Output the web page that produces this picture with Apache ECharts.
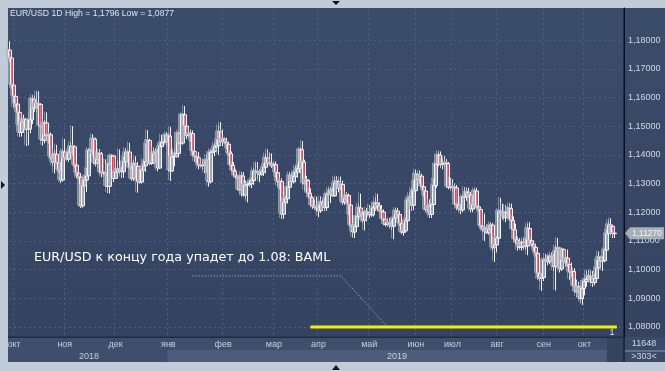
<!DOCTYPE html>
<html><head><meta charset="utf-8">
<script src="https://cdn.jsdelivr.net/npm/echarts@6/dist/echarts.min.js"></script>
<style>html,body{margin:0;padding:0;background:#c2cbd8}#c{width:665px;height:371px}</style>
</head><body><div id="c"></div>
<script>
const titleText = 'EUR/USD 1D High = 1,1796 Low = 1,0877';
const noteText = 'EUR/USD к концу года упадет до 1.08: BAML';

// daily bars in pips: [open, high, low, close]
const bars = [
// Sep 2018 (26-28)
[11765,11796,11722,11738],[11738,11750,11630,11643],[11643,11644,11565,11604],
// Oct 2018
[11604,11625,11565,11577],[11577,11590,11503,11548],[11548,11567,11463,11478],[11478,11531,11464,11514],[11514,11540,11480,11524],
[11524,11526,11431,11489],[11489,11500,11433,11490],[11490,11547,11475,11522],[11522,11608,11507,11594],[11594,11606,11550,11563],
[11563,11620,11550,11580],[11580,11622,11545,11576],[11576,11580,11490,11500],[11500,11510,11432,11451],[11451,11522,11440,11511],
[11511,11548,11460,11467],[11467,11494,11440,11470],[11470,11478,11383,11392],[11392,11430,11360,11374],[11374,11418,11335,11402],
[11402,11435,11370,11372],[11372,11380,11338,11347],[11347,11373,11302,11312],
// Nov 2018
[11312,11420,11307,11410],[11410,11455,11375,11389],[11389,11392,11380,11385],
[11385,11418,11375,11407],[11407,11444,11392,11429],[11429,11500,11398,11428],[11428,11434,11356,11364],[11364,11368,11318,11336],[11336,11338,11318,11322],
[11322,11330,11215,11222],[11222,11300,11216,11292],[11292,11326,11263,11312],[11312,11354,11270,11327],[11327,11424,11320,11415],[11415,11420,11408,11414],
[11414,11472,11400,11455],[11455,11460,11360,11370],[11370,11410,11355,11385],[11385,11420,11380,11404],[11404,11410,11322,11337],[11337,11342,11330,11338],
[11338,11385,11320,11330],[11330,11340,11267,11290],[11290,11387,11265,11368],[11368,11402,11360,11396],[11396,11400,11305,11318],
// Dec 2018
[11318,11345,11316,11340],
[11340,11380,11320,11350],[11350,11419,11334,11342],[11342,11360,11320,11341],[11341,11393,11320,11376],[11376,11423,11360,11407],[11407,11415,11400,11410],
[11410,11442,11350,11355],[11355,11394,11310,11317],[11317,11383,11310,11369],[11369,11395,11340,11360],[11360,11375,11268,11306],[11306,11312,11300,11305],
[11305,11354,11300,11347],[11347,11385,11336,11362],[11362,11440,11340,11377],[11377,11486,11370,11450],[11450,11456,11365,11370],[11370,11378,11365,11372],
[11372,11426,11368,11404],[11404,11422,11395,11410],[11410,11420,11343,11354],[11354,11440,11352,11429],[11429,11470,11420,11443],[11443,11450,11440,11445],
[11445,11480,11430,11469],
// Jan 2019
[11469,11475,11460,11465],[11465,11497,11309,11344],[11344,11412,11340,11393],[11393,11420,11360,11396],[11396,11410,11390,11405],
[11405,11485,11390,11475],[11475,11488,11425,11441],[11441,11545,11435,11540],[11540,11570,11485,11500],[11500,11530,11455,11467],[11467,11475,11462,11470],
[11470,11488,11445,11474],[11474,11485,11395,11412],[11412,11420,11375,11394],[11394,11410,11372,11390],[11390,11410,11350,11363],[11363,11370,11358,11362],
[11362,11385,11350,11363],[11363,11380,11336,11363],[11363,11400,11338,11382],[11382,11410,11289,11306],[11306,11420,11300,11408],[11408,11418,11405,11412],
[11412,11442,11396,11427],[11427,11455,11410,11432],[11432,11502,11400,11480],[11480,11514,11436,11446],
// Feb 2019
[11446,11488,11430,11455],[11455,11460,11440,11445],
[11445,11460,11420,11437],[11437,11445,11396,11404],[11404,11412,11355,11363],[11363,11375,11340,11343],[11343,11350,11317,11326],[11326,11330,11315,11318],
[11318,11328,11275,11277],[11277,11340,11255,11326],[11326,11340,11255,11260],[11260,11310,11248,11295],[11295,11300,11234,11296],[11296,11305,11290,11300],
[11300,11320,11284,11310],[11310,11353,11295,11342],[11342,11372,11330,11342],[11342,11375,11315,11338],[11338,11350,11305,11331],[11331,11345,11328,11340],
[11340,11370,11327,11357],[11357,11405,11335,11389],[11389,11419,11365,11371],[11371,11408,11365,11371],
// Mar 2019
[11371,11405,11355,11363],[11363,11370,11358,11366],
[11366,11377,11320,11338],[11338,11345,11290,11306],[11306,11320,11280,11307],[11307,11318,11177,11193],[11193,11245,11177,11235],
[11235,11258,11225,11247],[11247,11290,11230,11287],[11287,11340,11280,11327],[11327,11338,11291,11306],[11306,11345,11300,11325],
[11325,11362,11325,11339],[11339,11365,11320,11352],[11352,11425,11334,11418],[11418,11448,11365,11375],[11375,11383,11275,11299],
[11299,11326,11290,11311],[11311,11315,11260,11266],[11266,11283,11247,11250],[11250,11255,11212,11222],[11222,11245,11212,11217],
// Apr 2019
[11217,11255,11203,11215],[11215,11230,11183,11205],[11205,11255,11198,11235],[11235,11245,11208,11222],[11222,11250,11205,11216],
[11216,11270,11205,11262],[11262,11285,11245,11263],[11263,11288,11232,11275],[11275,11285,11255,11257],[11257,11323,11255,11302],
[11302,11325,11290,11307],[11307,11315,11270,11283],[11283,11324,11278,11297],[11297,11310,11226,11235],[11235,11255,11226,11247],
[11247,11270,11241,11258],[11258,11265,11190,11225],[11225,11235,11148,11154],[11154,11170,11112,11131],[11131,11160,11110,11150],
[11150,11185,11140,11185],[11185,11230,11175,11215],
// May 2019
[11215,11265,11185,11194],[11194,11200,11162,11172],[11172,11205,11136,11201],
[11201,11215,11168,11199],[11199,11225,11180,11191],[11191,11210,11184,11191],[11191,11230,11185,11215],[11215,11252,11205,11232],
[11232,11264,11215,11223],[11223,11235,11200,11205],[11205,11225,11178,11201],[11201,11210,11170,11174],[11174,11180,11150,11157],
[11157,11175,11150,11163],[11163,11180,11145,11160],[11160,11175,11138,11151],[11151,11180,11106,11180],[11180,11215,11170,11204],
[11204,11215,11185,11192],[11192,11200,11152,11160],[11160,11170,11125,11130],[11130,11145,11118,11135],[11135,11180,11130,11170],
// Jun 2019
[11170,11250,11165,11240],[11240,11268,11220,11252],[11252,11285,11205,11224],[11224,11310,11207,11275],[11275,11348,11253,11332],
[11332,11335,11290,11313],[11313,11345,11300,11326],[11326,11335,11285,11289],[11289,11300,11255,11274],[11274,11285,11202,11209],
[11209,11245,11200,11220],[11220,11245,11180,11192],[11192,11230,11180,11227],[11227,11318,11225,11293],[11293,11375,11285,11368],
[11368,11412,11360,11399],[11399,11412,11355,11367],[11367,11385,11350,11367],[11367,11395,11358,11372],[11372,11385,11350,11370],
// Jul 2019
[11370,11375,11280,11287],[11287,11320,11280,11288],[11288,11315,11270,11287],[11287,11300,11275,11285],[11285,11295,11207,11226],
[11226,11235,11205,11212],[11212,11220,11193,11208],[11208,11262,11200,11252],[11252,11287,11245,11253],[11253,11285,11240,11270],
[11270,11285,11255,11260],[11260,11265,11200,11211],[11211,11232,11200,11226],[11226,11283,11220,11274],[11274,11285,11215,11219],
[11219,11227,11200,11210],[11210,11212,11145,11152],[11152,11165,11130,11139],[11139,11195,11100,11144],[11144,11155,11125,11128],
[11128,11155,11122,11140],[11140,11165,11130,11155],[11155,11162,11065,11076],
// Aug 2019
[11076,11110,11027,11086],[11086,11117,11060,11109],
[11109,11210,11095,11204],[11204,11250,11175,11198],[11198,11230,11175,11200],[11200,11225,11165,11181],[11181,11220,11180,11200],
[11200,11230,11185,11213],[11213,11230,11160,11171],[11171,11185,11130,11139],[11139,11160,11095,11104],[11104,11115,11066,11091],
[11091,11110,11070,11077],[11077,11105,11066,11094],[11094,11110,11070,11080],[11080,11110,11068,11082],[11082,11160,11050,11143],
[11143,11165,11090,11101],[11101,11115,11080,11089],[11089,11095,11065,11078],[11078,11085,11045,11057],[11057,11060,10965,10987],
// Sep 2019
[10987,10990,10960,10969],[10969,10975,10926,10972],[10972,11040,10960,11033],[11033,11055,11010,11034],[11034,11050,11015,11027],
[11027,11055,11020,11046],[11046,11060,11035,11044],[11044,11055,10995,11010],[11010,11085,10927,11064],[11064,11110,11055,11075],
[11075,11077,10990,11002],[11002,11075,10995,11070],[11070,11075,11025,11030],[11030,11070,11010,11040],[11040,11070,11010,11018],
[11018,11025,10965,10991],[10991,11025,10975,10993],[10993,11005,10935,10942],[10942,10965,10905,10922],[10922,10958,10905,10940],
[10940,10945,10885,10899],
// Oct 2019
[10899,10945,10877,10934],[10934,10965,10910,10959],[10959,10995,10940,10966],[10966,10998,10955,10977],
[10977,10998,10960,10971],[10971,10995,10940,10955],[10955,10985,10945,10969],[10969,11035,10960,11006],[11006,11063,10995,11043],
[11043,11045,11015,11030],[11030,11046,10995,11031],[11031,11075,11025,11068],[11068,11140,11060,11125],[11125,11172,11120,11156],
[11156,11179,11140,11151],[11151,11155,11110,11125],[11125,11135,11110,11127]
];

const slotCount = 303;
const monthLabels = ['окт','ноя','дек','янв','фев','мар','апр','май','июн','июл','авг','сен','окт'];
const monthIdx    = [2, 27, 52, 78, 105, 130, 152, 177, 200, 218, 240, 263, 283];
const yearLabels = ['2018', '2019'];
const priceTicks = [1.08, 1.09, 1.10, 1.11, 1.12, 1.13, 1.14, 1.15, 1.16, 1.17, 1.18];
const targetLine = [[148, 1.08], [299, 1.08]];
const notePath = [[90, 1.0978], [163, 1.0978], [186, 1.0800]];
const lastPrice = 1.1127;
const barCounter = '11648';
const barsShown = '>303<';

const FONT = 'Liberation Sans, Arial, sans-serif';
const slots = [];
for (let i = 0; i < slotCount; i++) slots.push(String(i));
const candleData = bars.map(b => [b[0] / 1e4, b[3] / 1e4, b[2] / 1e4, b[1] / 1e4]);
const fmtPrice = v => v.toFixed(5).replace('.', ',');
const GRID_COLOR = '#4f5f80';

const chart = echarts.init(document.getElementById('c'), null, {renderer: 'canvas'});
chart.setOption({
  animation: false,
  backgroundColor: '#c2cbd8',
  textStyle: {fontFamily: FONT},
  grid: {left: 9, top: 8, width: 615, height: 329, containLabel: false},
  xAxis: {
    type: 'category', data: slots, boundaryGap: true,
    axisLine: {show: true, lineStyle: {color: '#222c40', width: 1}},
    axisTick: {show: false},
    axisLabel: {
      interval: (i) => monthIdx.indexOf(i) >= 0,
      formatter: (v, i) => { const k = monthIdx.indexOf(Number(v)); return k >= 0 ? monthLabels[k] : ''; },
      color: '#c6cedb', fontSize: 9, margin: 3, fontFamily: FONT
    },
    splitLine: {show: true, interval: (i) => monthIdx.indexOf(i) >= 0,
      lineStyle: {color: GRID_COLOR, type: [2, 3], width: 1}}
  },
  yAxis: {
    type: 'value', position: 'right', min: 1.0765, max: 1.1912, scale: true,
    axisLine: {show: true, lineStyle: {color: '#0b0f18', width: 1}},
    axisTick: {show: false, customValues: priceTicks},
    axisLabel: {customValues: priceTicks, color: '#d3d9e4', fontSize: 9, margin: 4, fontFamily: FONT,
      formatter: v => priceTicks.some(t => Math.abs(t - v) < 1e-6) ? fmtPrice(v) : ''},
    splitLine: {show: true, lineStyle: {color: GRID_COLOR, type: [2, 3], width: 1}}
  },
  series: [
    {
      type: 'candlestick', data: candleData, barWidth: 3.6, z: 3,
      itemStyle: {color: '#9aa3b4', color0: '#e8405a', borderColor: '#f6f6f6', borderColor0: '#f6f6f6', borderWidth: 1,
        shadowColor: 'rgba(175,180,192,0.6)', shadowBlur: 0, shadowOffsetX: -2, shadowOffsetY: -1},
      emphasis: {disabled: true}, silent: true
    },
    {
      type: 'line', data: notePath, symbol: 'none', z: 4, silent: true,
      lineStyle: {color: '#c0c8d6', width: 1, type: [1, 2]}
    },
    {
      type: 'line', data: targetLine, symbol: 'none', z: 5, silent: true,
      lineStyle: {color: '#f4f000', width: 3}
    }
  ]
});

const py = chart.convertToPixel({yAxisIndex: 0}, lastPrice);
const xOf = i => chart.convertToPixel({xAxisIndex: 0}, i);
chart.setOption({
  graphic: [
    {type: 'rect', z: -10, silent: true, shape: {x: 8, y: 8, width: 657, height: 354},
      style: {fill: new echarts.graphic.LinearGradient(0, 0, 0, 1, [{offset: 0, color: '#3b4b6a'}, {offset: 1, color: '#344360'}])}},
    {type: 'rect', z: -9, silent: true, shape: {x: 8, y: 337, width: 616, height: 25}, style: {fill: '#3e4e6c'}},
    {type: 'rect', z: -8, silent: true, shape: {x: xOf(monthIdx[3]) - 1, y: 350, width: 607 - xOf(monthIdx[3]) + 1, height: 12}, style: {fill: '#4c5d7c'}},
    {type: 'rect', z: -8, silent: true, shape: {x: 607, y: 337, width: 17, height: 25}, style: {fill: '#34435f'}},
    {type: 'rect', z: -8, silent: true, shape: {x: 624, y: 337, width: 41, height: 25}, style: {fill: '#3a4a68'}},
    {type: 'rect', z: 50, silent: true, shape: {x: 623.5, y: 8, width: 1, height: 354}, style: {fill: '#0b0f18'}},
    {type: 'rect', z: 50, silent: true, shape: {x: 8, y: 336.5, width: 616, height: 1.5}, style: {fill: '#222c40'}},
    {type: 'rect', z: 50, silent: true, shape: {x: 625, y: 350.5, width: 40, height: 1}, style: {fill: '#8c98ad'}},
    {type: 'text', z: 50, silent: true, style: {text: barCounter, x: 644, y: 344, align: 'center', verticalAlign: 'middle', fill: '#d0d7e2', font: '9px ' + FONT}},
    {type: 'text', z: 50, silent: true, style: {text: barsShown, x: 644, y: 357, align: 'center', verticalAlign: 'middle', fill: '#d0d7e2', font: '9px ' + FONT}},
    {type: 'text', z: 50, silent: true, style: {text: yearLabels[0], x: 89, y: 357, align: 'center', verticalAlign: 'middle', fill: '#c6cedb', font: '9px ' + FONT}},
    {type: 'text', z: 50, silent: true, style: {text: yearLabels[1], x: 397, y: 357, align: 'center', verticalAlign: 'middle', fill: '#c6cedb', font: '9px ' + FONT}},
    {type: 'text', z: 50, silent: true, style: {text: titleText, x: 10, y: 14, verticalAlign: 'middle', fill: '#dfe4ec', font: '8.7px ' + FONT}},
    {type: 'text', z: 50, silent: true, style: {text: noteText, x: 34, y: 258, verticalAlign: 'middle', fill: '#ffffff', font: '12.7px DejaVu Sans, sans-serif'}},
    {type: 'text', z: 50, silent: true, style: {text: '1', x: 612, y: 333, align: 'center', verticalAlign: 'middle', fill: '#dfe4ec', font: '9px ' + FONT}},
    {type: 'polygon', z: 60, silent: true, shape: {points: [[625, py], [630, py - 6], [664, py - 6], [664, py + 6], [630, py + 6]]}, style: {fill: '#a9afb9'}},
    {type: 'text', z: 61, silent: true, style: {text: fmtPrice(lastPrice), x: 647, y: py, align: 'center', verticalAlign: 'middle', fill: '#f4f6f8', font: '8.5px ' + FONT}},
    {type: 'polygon', z: 60, silent: true, shape: {points: [[332, 1], [340, 1], [336, 5]]}, style: {fill: '#10141c'}},
    {type: 'polygon', z: 60, silent: true, shape: {points: [[332, 370], [340, 370], [336, 365]]}, style: {fill: '#10141c'}},
    {type: 'polygon', z: 60, silent: true, shape: {points: [[1, 181], [1, 189], [5, 185]]}, style: {fill: '#10141c'}}
  ]
});
</script></body></html>
